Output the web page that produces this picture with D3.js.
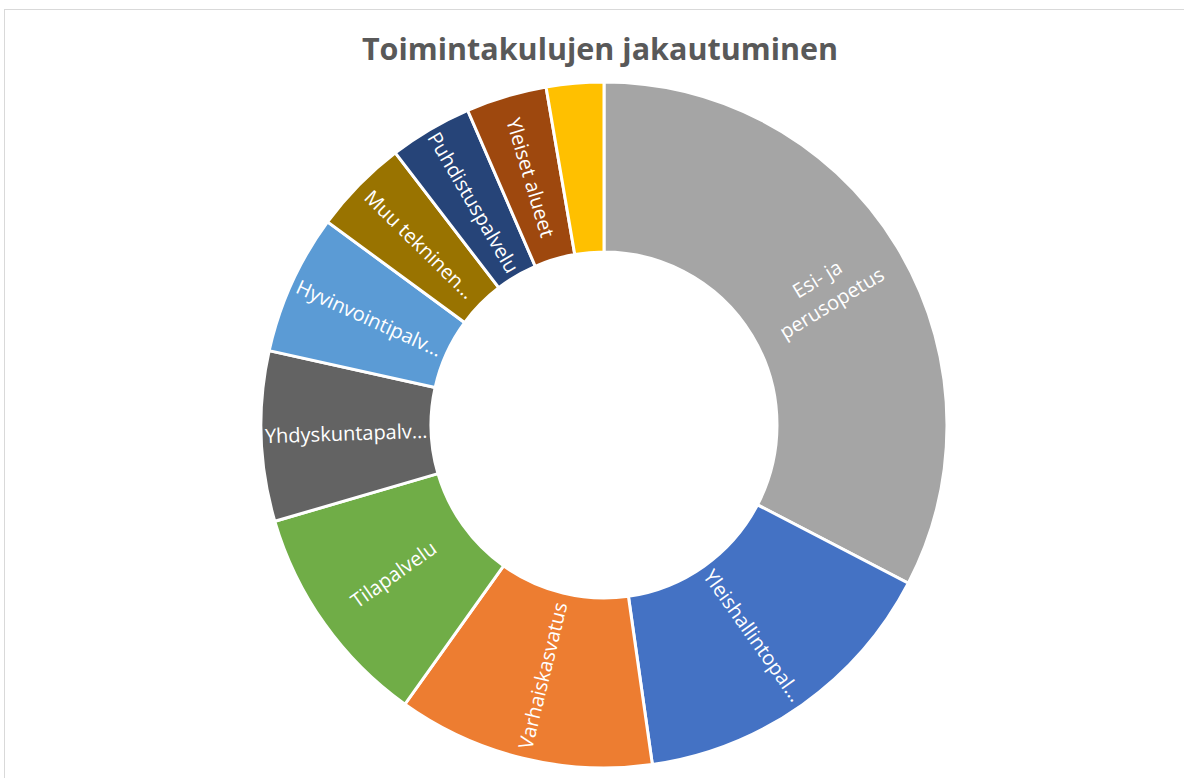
<!DOCTYPE html>
<html>
<head>
<meta charset="utf-8">
<script src="https://cdn.jsdelivr.net/npm/d3@7"></script>
<style>
  body { margin: 0; background: #fff; }
  svg { display: block; }
</style>
</head>
<body>
<div id="chart"></div>
<script>
// chart data (shares in %)
var categories = ["Esi- ja perusopetus", "Yleishallintopalvelut", "Varhaiskasvatus", "Tilapalvelu",
  "Yhdyskuntapalvelut", "Hyvinvointipalvelut", "Muu tekninen toimi", "Puhdistuspalvelu",
  "Yleiset alueet", "Muut"];
var values = [32.6, 15.1, 12.1, 10.6, 8.0, 6.6, 4.5, 3.9, 3.8, 2.7];
// labels as shown on the slices (empty = no label)
var labels = [["Esi- ja", "perusopetus"], ["Yleishallintopal\u2026"], ["Varhaiskasvatus"], ["Tilapalvelu"],
  ["Yhdyskuntapalv\u2026"], ["Hyvinvointipalv\u2026"], ["Muu tekninen\u2026"], ["Puhdistuspalvelu"],
  ["Yleiset alueet"], []];
var colors = ["#A5A5A5", "#4472C4", "#ED7D31", "#70AD47", "#636363", "#5B9BD5", "#997300",
  "#264478", "#9E480E", "#FFC000"];

var width = 1184, height = 778;
var cx = 604, cy = 425, outerR = 343, innerR = 173;

var svg = d3.select("#chart")
  .append("svg")
  .attr("width", width)
  .attr("height", height);

// chart area frame
svg.append("rect")
  .attr("x", 4.5).attr("y", 9.5)
  .attr("width", 1300).attr("height", 900)
  .attr("fill", "#fff")
  .attr("stroke", "#D9D9D9");

svg.append("text")
  .attr("x", 600).attr("y", 60)
  .attr("text-anchor", "middle")
  .attr("font-family", "'Open Sans', sans-serif")
  .attr("font-weight", "bold")
  .attr("font-size", "30.5px")
  .attr("fill", "#595959")
  .text("Toimintakulujen jakautuminen");

var data = categories.map(function(c, i) { return {name: c, value: values[i], label: labels[i], color: colors[i]}; });

var pie = d3.pie()
  .sort(null)
  .value(function(d) { return d.value; });

var arc = d3.arc()
  .innerRadius(innerR)
  .outerRadius(outerR);

var g = svg.append("g")
  .attr("transform", "translate(" + cx + "," + cy + ")");

var arcs = pie(data);

g.selectAll("path")
  .data(arcs)
  .join("path")
  .attr("d", arc)
  .attr("fill", function(d) { return d.data.color; })
  .attr("stroke", "#fff")
  .attr("stroke-width", 3);

// labels, rotated along the radius
var lbl = g.selectAll("text.lbl")
  .data(arcs.filter(function(d) { return d.data.label.length > 0; }))
  .join("text")
  .attr("class", "lbl")
  .attr("text-anchor", "middle")
  .attr("font-family", "'Open Sans', sans-serif")
  .attr("font-size", "20px")
  .attr("fill", "#fff")
  .attr("transform", function(d) {
    var c = arc.centroid(d);
    var a = (d.startAngle + d.endAngle) / 2 * 180 / Math.PI;
    var rot = a > 180 ? a - 270 : a - 90;
    return "translate(" + c[0] + "," + c[1] + ") rotate(" + rot + ")";
  });

lbl.each(function(d) {
  var n = d.data.label.length;
  var lh = 28;
  d3.select(this).selectAll("tspan")
    .data(d.data.label)
    .join("tspan")
    .attr("x", 0)
    .attr("y", function(t, i) { return (i - (n - 1) / 2) * lh; })
    .attr("dy", "0.35em")
    .text(function(t) { return t; });
});
</script>
</body>
</html>
